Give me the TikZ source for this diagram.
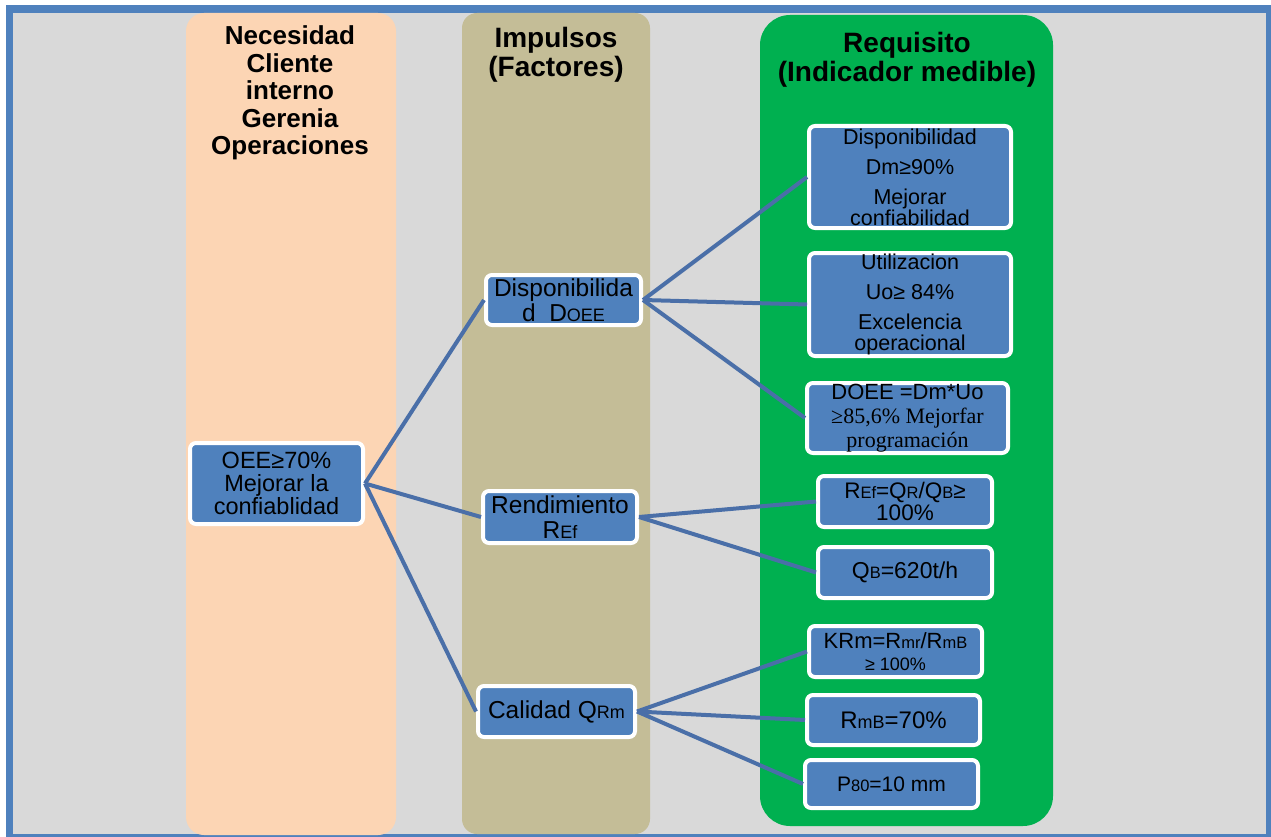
\documentclass[tikz,border=0pt]{standalone}
\usepackage{fontspec}
\setmainfont{Liberation Sans}
\newfontfamily\serifrm{Liberation Serif}
\definecolor{frameblue}{HTML}{4F81BD}
\definecolor{bggray}{HTML}{D9D9D9}
\definecolor{peach}{HTML}{FCD5B4}
\definecolor{tancol}{HTML}{C4BD97}
\definecolor{grn}{HTML}{00B050}
\definecolor{boxblue}{HTML}{4F81BD}
\definecolor{linkblue}{HTML}{4A6FA8}
\newcommand\fs[2]{\fontsize{#1}{#2}\selectfont}
\newcommand\sml[1]{{\fontsize{16.5}{16.5}\selectfont #1}}
\newcommand\smm[1]{{\fontsize{18}{18}\selectfont #1}}
\begin{document}
\begin{tikzpicture}[x=1pt,y=-1pt,
  hdr/.style={font=\bfseries\fs{26}{27.5}, align=center, inner sep=0},
  hdrb/.style={font=\bfseries\fs{28}{29}, align=center, inner sep=0},
  box/.style={draw=white, line width=4pt, fill=boxblue, rounded corners=6pt,
    inner sep=0, align=center, text=black},
  link/.style={draw=linkblue, line width=4pt}]
\useasboundingbox (0,0) rectangle (1271,837);
% frame and background
\fill[white] (0,0) rectangle (1271,837);
\fill[frameblue] (6,5) rectangle (1271,837);
\fill[bggray] (13,13) rectangle (1266,834);
% columns
\fill[peach, rounded corners=18pt] (186,13) rectangle (396,835);
\fill[tancol, rounded corners=15pt] (462,13) rectangle (650,834);
\fill[grn, rounded corners=30pt] (760,15) rectangle (1053,826);
% headers
\node[hdr] (h1) at (290,93) {Necesidad\\Cliente\\interno\\Gerenia\\Operaciones};
\node[hdrb] (h2) at (556,54.5) {Impulsos\\(Factores)};
\node[hdrb] (h3) at (907,59.5) {Requisito\\(Indicador medible)};
% left box
\node[box, minimum width=173, minimum height=81, font=\fs{23.5}{23}] (oee) at (276.5,483.5)
  {OEE≥70\%\\Mejorar la\\confiablidad};
% middle boxes
\node[box, minimum width=155, minimum height=50, font=\fs{24.5}{25}] (disp) at (563.5,300)
  {Disponibilida\\d\ \ D\smm{OEE}};
\node[box, minimum width=154, minimum height=52, font=\fs{24.5}{25}] (rend) at (560,517)
  {Rendimiento\\R\smm{Ef}};
\node[box, minimum width=157, minimum height=51, font=\fs{24.5}{25}] (cal) at (556.5,711.5)
  {Calidad Q\smm{Rm}};
% right boxes
\node[box, minimum width=202, minimum height=102, font=\fs{21.5}{21}] (r1) at (910,177)
  {Disponibilidad\\[9pt]Dm≥90\%\\[9pt]Mejorar\\confiabilidad};
\node[box, minimum width=202, minimum height=103, font=\fs{21.5}{21}] (r2) at (910,304.5)
  {Utilizacion\\[9pt]Uo≥ 84\%\\[9pt]Excelencia\\operacional};
\node[box, minimum width=201, minimum height=70, font=\fs{22}{24}] (r3) at (907.5,418)
  {DOEE =Dm*Uo\\{\serifrm ≥85,6\% Mejorfar}\\{\serifrm programación}};
\node[box, minimum width=174, minimum height=51, font=\fs{22.5}{22}] (r4) at (905,501.5)
  {R\sml{Ef}=Q\sml{R}/Q\sml{B}≥\\100\%};
\node[box, minimum width=174, minimum height=51, font=\fs{23}{23}] (r5) at (905,572.5)
  {Q\sml{B}=620t/h};
\node[box, minimum width=173, minimum height=51, font=\fs{22}{22}] (r6) at (895.5,651.5)
  {KRm=R\sml{mr}/R\sml{mB}\\{\fs{18}{18}≥ 100\%}};
\node[box, minimum width=173, minimum height=50, font=\fs{24}{24}] (r7) at (893.5,720)
  {R\smm{mB}=70\%};
\node[box, minimum width=173, minimum height=48, font=\fs{21}{21}] (r8) at (891.5,784)
  {P\sml{80}=10 mm};
% connectors
\draw[link] (oee.east) -- (disp.west);
\draw[link] (oee.east) -- (rend.west);
\draw[link] (oee.east) -- (cal.west);
\draw[link] (disp.east) -- (r1.west);
\draw[link] (disp.east) -- (r2.west);
\draw[link] (disp.east) -- (r3.west);
\draw[link] (rend.east) -- (r4.west);
\draw[link] (rend.east) -- (r5.west);
\draw[link] (cal.east) -- (r6.west);
\draw[link] (cal.east) -- (r7.west);
\draw[link] (cal.east) -- (r8.west);
\end{tikzpicture}
\end{document}
